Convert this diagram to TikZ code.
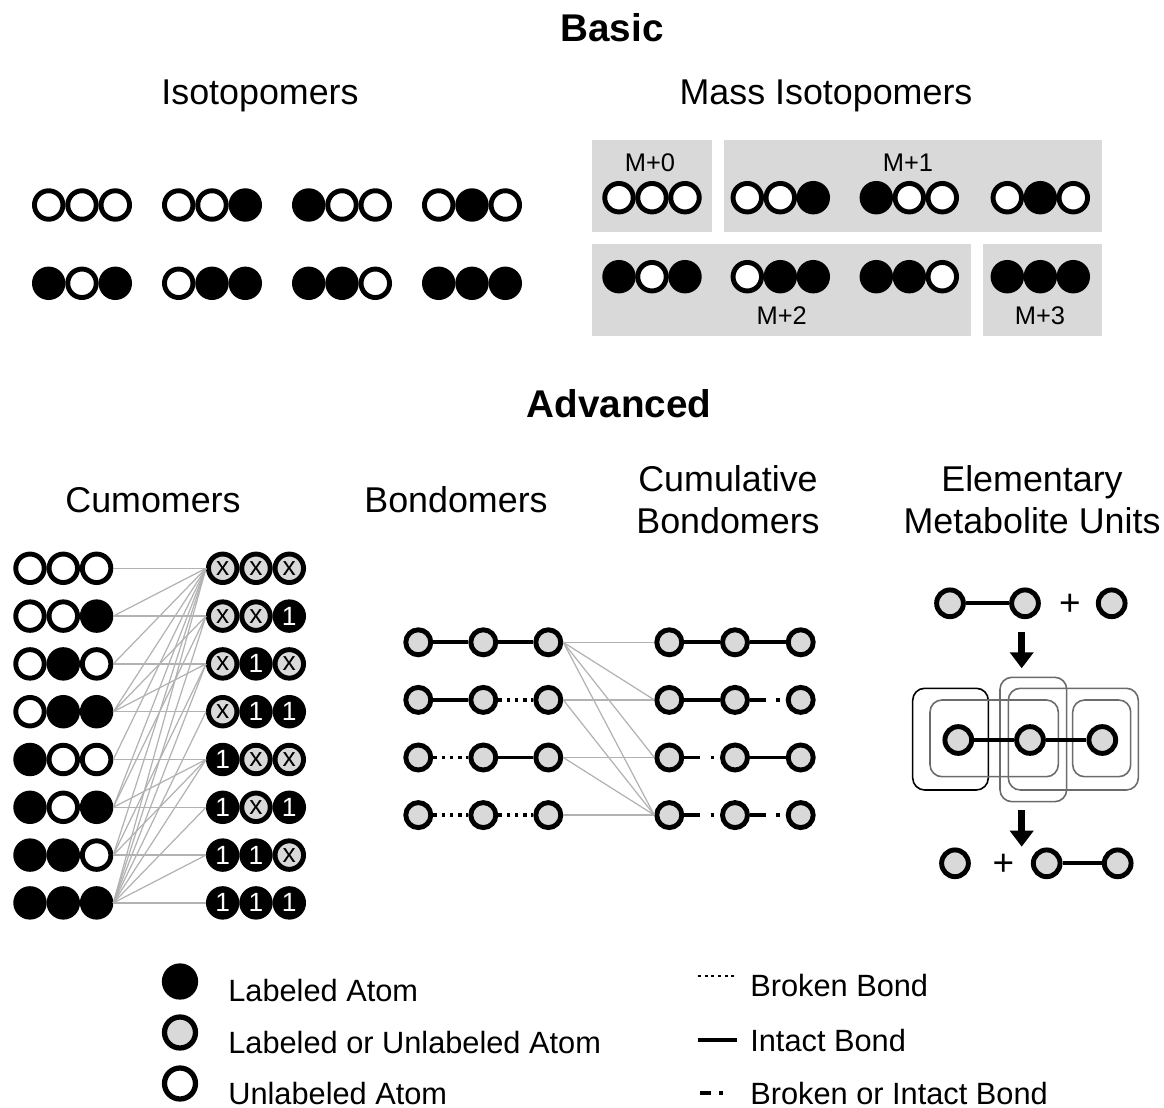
\documentclass[tikz,border=0pt]{standalone}
\usepackage{fontspec}
\setmainfont{Liberation Sans}
\usetikzlibrary{arrows.meta}

\definecolor{atomgray}{gray}{0.85}
\definecolor{boxgray}{gray}{0.85}
\definecolor{linkgray}{gray}{0.7}
\definecolor{emugray}{gray}{0.42}
\colorlet{atom0}{white}
\colorlet{atom1}{black}
\colorlet{cum0}{atomgray}
\colorlet{cum1}{black}
\colorlet{txt0}{black}
\colorlet{txt1}{white}

\tikzset{
  atom/.style = {circle, draw = black, line width = 2.8pt, minimum size = 0.57cm, inner sep = 0pt},
  cumatom/.style = {atom, font = \fontsize{15}{16}\selectfont},
  bondatom/.style = {atom, fill = atomgray, minimum size = 0.5cm},
  emuatom/.style = {atom, fill = atomgray, minimum size = 0.535cm},
  legatom/.style = {atom, line width = 3pt, minimum size = 0.62cm},
  title/.style = {font = \fontsize{22}{26}\selectfont\bfseries, anchor = base, inner sep = 0pt},
  heading/.style = {font = \fontsize{20.4}{23.6}\selectfont, anchor = base, inner sep = 0pt, align = center},
  masslabel/.style = {font = \fontsize{14.5}{16}\selectfont, anchor = base, inner sep = 0pt},
  legtext/.style = {font = \fontsize{17.5}{20}\selectfont, anchor = base west, inner sep = 0pt},
  plus/.style = {font = \fontsize{21}{24}\selectfont, inner sep = 0pt},
  link/.style = {draw = linkgray, line width = 0.7pt},
  intact/.style = {line width = 2.1pt},
  broken/.style = {line width = 2.1pt, dash pattern = on 2.1pt off 2.6pt},
  either/.style = {line width = 2.1pt, dash pattern = on 9pt off 6pt on 2.1pt off 20pt},
  emubox/.style = {draw = emugray, line width = 0.9pt, rounded corners = 0.24cm},
  bigarrow/.style = {line width = 0.13cm, -{Triangle[width = 0.46cm, length = 0.32cm]}}
}

\begin{document}
\begin{tikzpicture}[x = 0.02cm, y = -0.02cm]
  \useasboundingbox (0, 0) rectangle (1164, 1108);

  % titles
  \node[title] (basic) at (612, 41.7) {Basic};
  \node[title] (advanced) at (619, 417.3) {Advanced};
  \node[heading] (isohead) at (260, 105) {Isotopomers};
  \node[heading] (masshead) at (826, 105) {Mass Isotopomers};
  \node[heading] (cumhead) at (153, 512) {Cumomers};
  \node[heading] (bondhead) at (456, 512) {Bondomers};
  \node[heading] (cbondhead) at (728, 533.3) {Cumulative\\Bondomers};
  \node[heading] (emuhead) at (1032, 533.3) {Elementary\\Metabolite Units};

  % isotopomers
  \foreach \pa/\pb/\pc [count=\g] in {0/0/0, 0/0/1, 1/0/0, 0/1/0}
    \foreach \bit [count=\k] in {\pa, \pb, \pc}
      \node[atom, fill = atom\bit] (isoa\g-\k) at ({82 + 130 * (\g - 1) + 33.3 * (\k - 2)}, 205) {};
  \foreach \pa/\pb/\pc [count=\g] in {1/0/1, 0/1/1, 1/1/0, 1/1/1}
    \foreach \bit [count=\k] in {\pa, \pb, \pc}
      \node[atom, fill = atom\bit] (isob\g-\k) at ({82 + 130 * (\g - 1) + 33.3 * (\k - 2)}, 283.3) {};

  % mass isotopomers
  \fill[boxgray] (592, 140) rectangle (712, 232);
  \fill[boxgray] (724, 140) rectangle (1102, 232);
  \fill[boxgray] (592, 244) rectangle (971, 336);
  \fill[boxgray] (983, 244) rectangle (1102, 336);
  \node[masslabel] (m0) at (650, 171.7) {M+0};
  \node[masslabel] (m1) at (908, 171.7) {M+1};
  \node[masslabel] (m2) at (781.7, 325) {M+2};
  \node[masslabel] (m3) at (1040, 325) {M+3};
  \foreach \mx/\my/\pa/\pb/\pc [count=\g] in {652/197.7/0/0/0, 780.3/197.7/0/0/1, 909.3/197.7/1/0/0,
      1040.3/197.7/0/1/0, 652/276.7/1/0/1, 780.3/276.7/0/1/1, 909.3/276.7/1/1/0, 1040.3/276.7/1/1/1}
    \foreach \bit [count=\k] in {\pa, \pb, \pc}
      \node[atom, fill = atom\bit] (mass\g-\k) at ({\mx + 33 * (\k - 2)}, \my) {};

  % cumomers
  \foreach \i in {0, ..., 7} {
    \pgfmathtruncatemacro{\bitA}{int(\i / 4)}
    \pgfmathtruncatemacro{\bitB}{mod(int(\i / 2), 2)}
    \pgfmathtruncatemacro{\bitC}{mod(\i, 2)}
    \foreach \bit [count=\k] in {\bitA, \bitB, \bitC} {
      \node[atom, fill = atom\bit] (cl\i-\k) at ({63.3 + 33.3 * (\k - 2)}, {568.3 + 47.8 * \i}) {};
      \node[cumatom, fill = cum\bit, text = txt\bit] (cr\i-\k) at ({256 + 33.3 * (\k - 2)}, {568.3 + 47.8 * \i})
        {\ifnum\bit=1 1\else x\fi};
    }
  }
  \foreach \i in {0, ..., 7}
    \foreach \j in {0, ..., 7} {
      \pgfmathtruncatemacro{\linkok}{(int(\j / 4) <= int(\i / 4)) && (mod(int(\j / 2), 2) <= mod(int(\i / 2), 2)) && (mod(\j, 2) <= mod(\i, 2))}
      \ifnum\linkok=1 \draw[link] (cl\i-3.east) -- (cr\j-1.west); \fi
    }

  % bondomers and cumulative bondomers
  \foreach \r in {0, ..., 3} {
    \pgfmathtruncatemacro{\bondA}{int(\r / 2)}
    \pgfmathtruncatemacro{\bondB}{mod(\r, 2)}
    \foreach \k in {1, 2, 3} {
      \node[bondatom] (bl\r-\k) at ({418.3 + 65 * (\k - 1)}, {642.3 + 57.6 * \r}) {};
      \node[bondatom] (br\r-\k) at ({669.3 + 65.7 * (\k - 1)}, {642.3 + 57.6 * \r}) {};
    }
    \ifnum\bondA=0
      \draw[intact] (bl\r-1) -- (bl\r-2);
      \draw[intact] (br\r-1) -- (br\r-2);
    \else
      \draw[broken] (bl\r-1) -- (bl\r-2);
      \draw[either] (br\r-1) -- (br\r-2);
    \fi
    \ifnum\bondB=0
      \draw[intact] (bl\r-2) -- (bl\r-3);
      \draw[intact] (br\r-2) -- (br\r-3);
    \else
      \draw[broken] (bl\r-2) -- (bl\r-3);
      \draw[either] (br\r-2) -- (br\r-3);
    \fi
  }
  \foreach \i in {0, ..., 3}
    \foreach \j in {0, ..., 3} {
      \pgfmathtruncatemacro{\linkok}{(int(\i / 2) <= int(\j / 2)) && (mod(\i, 2) <= mod(\j, 2))}
      \ifnum\linkok=1 \draw[link] (bl\i-3.east) -- (br\j-1.west); \fi
    }

  % elementary metabolite units
  \node[emuatom] (ea1) at (950, 603.3) {};
  \node[emuatom] (ea2) at (1025, 603.3) {};
  \node[plus] (eplus1) at (1070, 605) {+};
  \node[emuatom] (eb1) at (1111.7, 603.3) {};
  \draw[intact] (ea1) -- (ea2);

  \coordinate (arrow1top) at (1021.7, 631.7);
  \coordinate (arrow1tip) at (1021.7, 668.3);
  \draw[bigarrow] (arrow1top) -- (arrow1tip);

  \draw[emubox, draw = black] (912.7, 688.3) rectangle (988.3, 790);
  \draw[emubox] (930, 700) rectangle (1058.3, 776.7);
  \draw[emubox] (1000, 677.3) rectangle (1066.7, 801.7);
  \draw[emubox] (1008.3, 688.3) rectangle (1138.3, 790);
  \draw[emubox] (1072.7, 700) rectangle (1130.7, 776.7);
  \node[emuatom] (em1) at (958.3, 740) {};
  \node[emuatom] (em2) at (1030, 740) {};
  \node[emuatom] (em3) at (1102.3, 740) {};
  \draw[intact] (em1) -- (em2);
  \draw[intact] (em2) -- (em3);

  \coordinate (arrow2top) at (1021.7, 810);
  \coordinate (arrow2tip) at (1021.7, 846.7);
  \draw[bigarrow] (arrow2top) -- (arrow2tip);

  \node[emuatom] (ec1) at (955, 863.3) {};
  \node[plus] (eplus2) at (1003.3, 865) {+};
  \node[emuatom] (ed1) at (1046.7, 863.3) {};
  \node[emuatom] (ed2) at (1117.7, 863.3) {};
  \draw[intact] (ed1) -- (ed2);

  % legend
  \node[legatom, fill = black] (leglab) at (180, 981.5) {};
  \node[legatom, fill = atomgray] (legany) at (180, 1032.5) {};
  \node[legatom, fill = white] (legunl) at (180, 1083.5) {};
  \node[legtext] (leglabtext) at (228, 1001) {Labeled Atom};
  \node[legtext] (leganytext) at (228, 1053) {Labeled or Unlabeled Atom};
  \node[legtext] (legunltext) at (228, 1104) {Unlabeled Atom};

  \coordinate (legbrokenA) at (698, 976);
  \coordinate (legbrokenB) at (736, 976);
  \coordinate (legintactA) at (698, 1040);
  \coordinate (legintactB) at (737, 1040);
  \coordinate (legeitherA) at (700, 1093);
  \coordinate (legeitherB) at (736, 1093);
  \draw[line width = 1.7pt, dash pattern = on 1.7pt off 2.1pt] (legbrokenA) -- (legbrokenB);
  \draw[intact] (legintactA) -- (legintactB);
  \draw[line width = 2.1pt, dash pattern = on 6pt off 5pt on 2.1pt off 20pt] (legeitherA) -- (legeitherB);
  \node[legtext] (legbrokentext) at (750, 996) {Broken Bond};
  \node[legtext] (legintacttext) at (750, 1051) {Intact Bond};
  \node[legtext] (legeithertext) at (750, 1104) {Broken or Intact Bond};
\end{tikzpicture}
\end{document}
